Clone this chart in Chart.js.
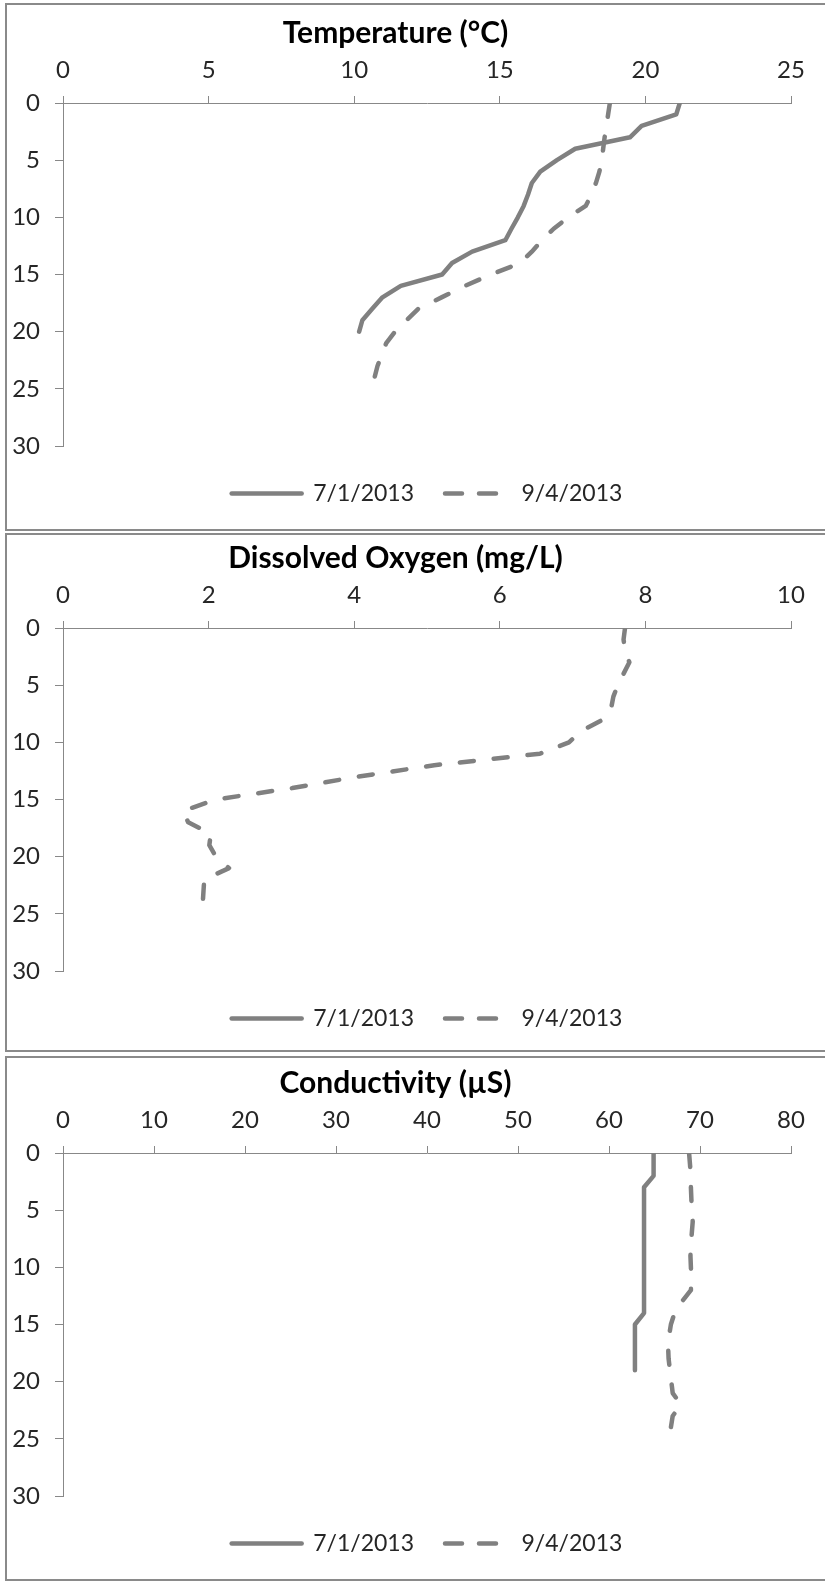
<!DOCTYPE html>
<html>
<head>
<meta charset="utf-8">
<script src="https://cdn.jsdelivr.net/npm/chart.js@4.4.0/dist/chart.umd.min.js"></script>
<style>
  html, body { margin: 0; padding: 0; background: #fff; }
  body { width: 825px; height: 1585px; position: relative; overflow: hidden; }
  .frame { position: absolute; left: 5px; width: 840px; border: 2px solid #8a8a8a; box-sizing: border-box; }
  canvas { position: absolute; left: 0; }
</style>
</head>
<body>
<div class="frame" style="top:3px;height:528px"></div>
<div class="frame" style="top:533px;height:519px"></div>
<div class="frame" style="top:1056px;height:525px"></div>
<canvas id="tempChart" width="825" height="525" style="top:0px"></canvas>
<canvas id="oxygenChart" width="825" height="525" style="top:525px"></canvas>
<canvas id="condChart" width="825" height="525" style="top:1050px"></canvas>
<script>
/* depth profiles, depth in m */
const seriesNames = ['7/1/2013', '9/4/2013']

const depthJul = [0, 1, 2, 3, 4, 5, 6, 7, 8, 9, 10, 11, 12, 13, 14, 15, 16, 17, 18, 19, 20]
const depthSep = [0, 1, 2, 3, 4, 5, 6, 7, 8, 9, 10, 11, 12, 13, 14, 15, 16, 17, 18, 19, 20, 21, 22, 23, 24, 25]

const tempJul = [21.18, 21.06, 19.87, 19.47, 17.59, 16.96, 16.39, 16.1, 15.97, 15.82, 15.62,
                 15.4, 15.19, 14.05, 13.36, 13.02, 11.6, 10.97, 10.62, 10.28, 10.17]
const tempSep = [18.78, 18.72, 18.66, 18.6, 18.55, 18.5, 18.42, 18.3, 18.15, 17.95, 17.35, 16.85, 16.45,
                 16.1, 15.7, 14.7, 13.8, 13.0, 12.2, 11.8, 11.4, 11.1, 10.95, 10.8, 10.7, 10.58]

// no oxygen readings on 7/1
const oxygenJul = []
const oxygenSep = [7.72, 7.7, 7.72, 7.78, 7.7, 7.62, 7.56, 7.53, 7.42, 7.12, 6.95, 6.55, 5.1,
                   4.05, 3.15, 2.1, 1.65, 1.72, 2.03, 2.01, 2.1, 2.28, 1.94, 1.93, 1.92]

const condJul = [64.9, 64.9, 64.9, 63.85, 63.85, 63.85, 63.85, 63.85, 63.85, 63.85, 63.85,
                 63.85, 63.85, 63.85, 63.85, 62.85, 62.85, 62.85, 62.85, 62.85]
const condSep = [68.8, 68.9, 69.0, 69.0, 69.05, 69.1, 69.2, 69.1, 69.0, 68.95, 69.0, 69.05, 69.0,
                 68.0, 67.2, 66.8, 66.6, 66.5, 66.55, 66.7, 66.85, 67.0, 67.9, 67.0, 66.8, 66.7]

const depthTicks = [0, 30, 5]        // min, max, step
const tempTicks = [0, 25, 5]
const oxygenTicks = [0, 10, 2]
const condTicks = [0, 80, 10]

const colors = {
    line: '#808080',
    axis: '#888888',
    text: '#262626'
}
const FONT = "Lato, 'Open Sans', sans-serif"

function points(values, depths) {
    return values.map(function(v, i) { return {x: v, y: depths[i]} })
}

// legend samples: same stroke as the series, dashes a bit longer so two fit
function lineLabels(chart) {
    return chart.data.datasets.map(function(ds, i) {
        return {
            text: ds.label,
            datasetIndex: i,
            fontColor: colors.text,
            strokeStyle: ds.borderColor,
            fillStyle: ds.borderColor,
            lineWidth: ds.borderWidth,
            lineDash: ds.borderDash ? [17, 17] : [],
            lineDashOffset: -5,
            lineCap: 'round',
            pointStyle: 'line',
            hidden: false
        }
    })
}

function profileChart(id, title, xTicks, jul, sep) {
    const ctx = document.getElementById(id).getContext('2d')
    return new Chart(ctx, {
        type: 'scatter',
        data: {
            datasets: [
            {
                label: seriesNames[0],
                data: jul,
                showLine: true,
                borderColor: colors.line,
                backgroundColor: colors.line,
                borderWidth: 4.5,
                pointRadius: 0,
                borderCapStyle: 'round',
                borderJoinStyle: 'round'
            },
            {
                label: seriesNames[1],
                data: sep,
                showLine: true,
                borderColor: colors.line,
                backgroundColor: colors.line,
                borderWidth: 4.5,
                borderDash: [14, 20],
                pointRadius: 0,
                borderCapStyle: 'round',
                borderJoinStyle: 'round'
            }]
        },
        options: {
            responsive: false,
            animation: false,
            devicePixelRatio: 1,
            layout: { padding: { left: 0, right: 34, top: 0, bottom: 10 } },
            plugins: {
                tooltip: { enabled: false },
                title: {
                    display: true,
                    text: title,
                    color: '#000',
                    font: { family: FONT, size: 30, weight: 'bold', lineHeight: 1.2 },
                    padding: { top: 15, bottom: 0 }
                },
                legend: {
                    position: 'bottom',
                    fullSize: false,
                    title: { display: true, text: '', font: { size: 10, lineHeight: 1 }, padding: 0 },
                    labels: {
                        usePointStyle: true,
                        pointStyle: 'line',
                        pointStyleWidth: 70,
                        padding: 26,
                        color: colors.text,
                        font: { family: FONT, size: 23 },
                        generateLabels: lineLabels
                    }
                }
            },
            scales: {
                x: {
                    type: 'linear',
                    position: 'top',
                    min: xTicks[0],
                    max: xTicks[1],
                    ticks: { stepSize: xTicks[2], padding: 11, color: colors.text, font: { family: FONT, size: 24 } },
                    grid: { drawOnChartArea: false, tickLength: 7, color: colors.axis },
                    border: { display: true, color: colors.axis, width: 1 },
                    afterFit: function(scale) { scale.height = 103 - 51 }
                },
                y: {
                    type: 'linear',
                    reverse: true,
                    min: depthTicks[0],
                    max: depthTicks[1],
                    ticks: { stepSize: depthTicks[2], padding: 15, color: colors.text, font: { family: FONT, size: 24 } },
                    grid: { drawOnChartArea: false, tickLength: 8, color: colors.axis },
                    border: { display: true, color: colors.axis, width: 1 },
                    afterFit: function(scale) { scale.width = 63 }
                }
            }
        }
    })
}

profileChart('tempChart', 'Temperature (°C)', tempTicks,
    points(tempJul, depthJul), points(tempSep, depthSep))
profileChart('oxygenChart', 'Dissolved Oxygen (mg/L)', oxygenTicks,
    points(oxygenJul, depthJul), points(oxygenSep, depthSep))
profileChart('condChart', 'Conductivity (µS)', condTicks,
    points(condJul, depthJul), points(condSep, depthSep))
</script>
</body>
</html>
